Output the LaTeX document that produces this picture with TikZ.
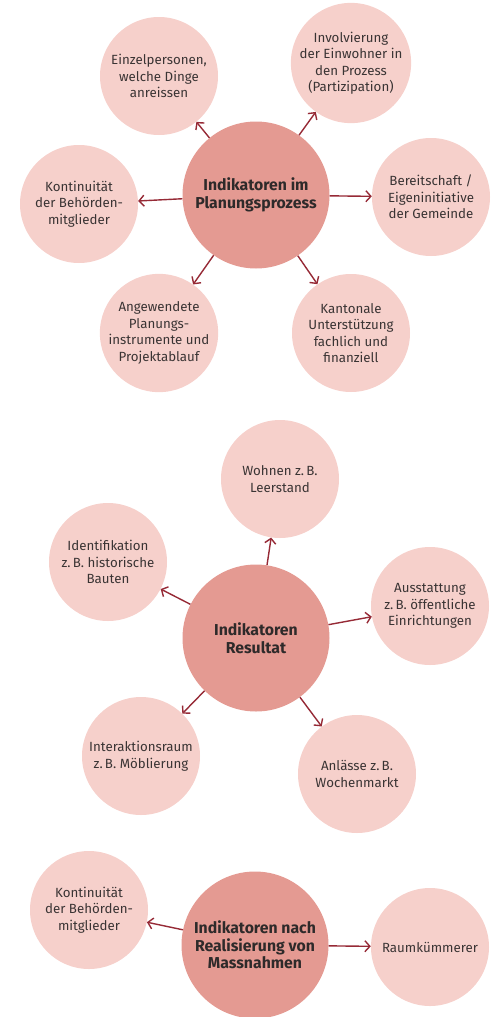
\documentclass[tikz,border=0pt]{standalone}
\usepackage{fontspec}
\setmainfont{Fira Sans}
\usepackage{xcolor}
\usetikzlibrary{arrows.meta}
\definecolor{hubfill}{HTML}{E49A92}
\definecolor{leaffill}{HTML}{F6D0CB}
\definecolor{arrowred}{HTML}{962A36}
\definecolor{inktext}{HTML}{3A3434}
\tikzset{
  leaf/.style={circle, fill=leaffill, minimum size=118pt, inner sep=0pt, align=center,
    text=inktext, font=\fontsize{13.3}{16.5}\selectfont},
  hub/.style={circle, fill=hubfill, minimum size=147pt, inner sep=0pt, align=center,
    text=inktext!80!black, font=\fontsize{15.8}{17.5}\selectfont\bfseries},
  link/.style={draw=arrowred, line width=1.4pt, -{Straight Barb[length=5pt, width=11pt]}}
}

\begin{document}
\begin{tikzpicture}[x=1pt, y=-1pt]
    \useasboundingbox (0,0) rectangle (499,1017);
    % Planungsprozess
    \node[hub] (plan) at (256,195) {Indikatoren im\\Planungsprozess};
    \node[leaf] (einzel) at (159,76) {Einzelpersonen,\\welche Dinge\\anreissen};
    \node[leaf] (invol) at (351,63) {Involvierung\\der Einwohner in\\den Prozess\\(Partizipation)};
    \node[leaf] (konti) at (79,204) {Kontinuität\\der Behörden-\\mitglieder};
    \node[leaf] (bereit) at (431,197) {Bereitschaft /\\Eigeninitiative\\der Gemeinde};
    \node[leaf] (instr) at (159,333) {Angewendete\\Planungs-\\instrumente und\\Projektablauf};
    \node[leaf] (kanton) at (351,333) {Kantonale\\Unterstützung\\fachlich und\\finanziell};
    \foreach \t in {einzel, invol, konti, bereit, instr, kanton}{
      \draw[link] (plan) -- (\t);
    }
    % Resultat
    \node[hub] (resu) at (256,638) {Indikatoren\\Resultat};
    \node[leaf] (wohnen) at (280,479) {Wohnen z.\,B.\\Leerstand};
    \node[leaf] (ident) at (108,562) {Identifikation\\z.\,B. historische\\Bauten};
    \node[leaf] (ausst) at (430,606) {Ausstattung\\z.\,B. öffentliche\\Einrichtungen};
    \node[leaf] (inter) at (141,756) {Interaktionsraum\\z.\,B. Möblierung};
    \node[leaf] (anlass) at (357,774) {Anlässe z.\,B.\\Wochenmarkt};
    \foreach \t in {wohnen, ident, ausst, inter, anlass}{
      \draw[link] (resu) -- (\t);
    }
    % nach Realisierung
    \node[hub] (real) at (255,945) {Indikatoren nach\\Realisierung von\\Massnahmen};
    \node[leaf] (kontib) at (89,910) {Kontinuität\\der Behörden-\\mitglieder};
    \node[leaf] (raum) at (430,947) {Raumkümmerer};
    \draw[link] (real) -- (kontib);
    \draw[link] (real) -- (raum);
\end{tikzpicture}
\end{document}
